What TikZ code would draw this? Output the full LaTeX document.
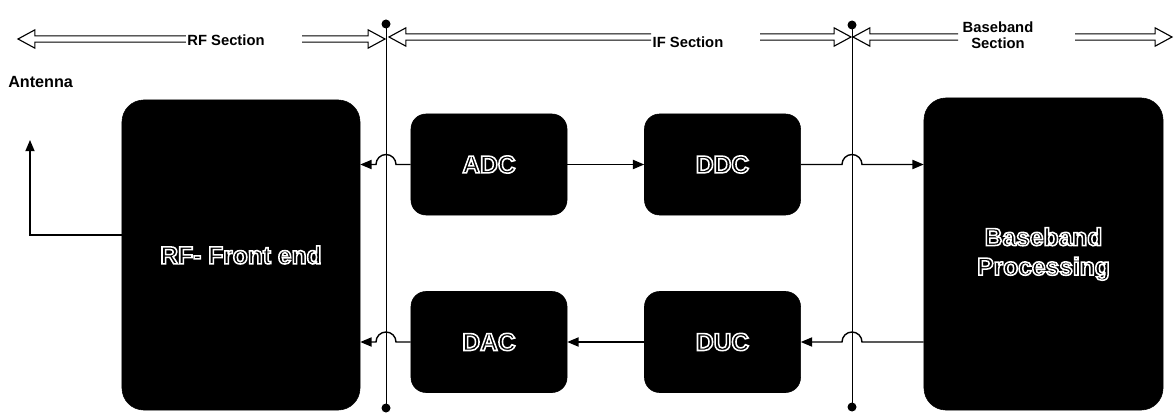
\documentclass[tikz,border=0pt]{standalone}
\usepackage{fontspec}
\setmainfont{Liberation Sans}
\usetikzlibrary{arrows.meta, positioning, calc}

% white outline lettering inside the black blocks
\newcommand\outlined[1]{\special{pdf:literal direct 1 Tr 1.1 w}#1\special{pdf:literal direct 0 Tr}}

% hollow section arrow: tail x from #1, head at #2
\newcommand\hollowarrow[2]{%
  \draw[secline] let \p1=(#1), \p2=(#2), \n1={ifthenelse(\x2>\x1,1,-1)} in
    (\x1,\y2+2.2pt) -- (\x2-\n1*12pt,\y2+2.2pt) -- (\x2-\n1*12pt,\y2+6.5pt) -- (\x2,\y2)
    -- (\x2-\n1*12pt,\y2-6.5pt) -- (\x2-\n1*12pt,\y2-2.2pt) -- (\x1,\y2-2.2pt);}

\begin{document}
\begin{tikzpicture}[x=0.025cm, y=-0.025cm,
  blk/.style={draw, fill=black, text=white, rounded corners=0.375cm, minimum width=3.9cm, minimum height=2.525cm, font=\bfseries\fontsize{17.5}{21}\selectfont, align=center},
  bigblk/.style={blk, rounded corners=0.55cm},
  seclbl/.style={inner sep=1pt, font=\bfseries\fontsize{10.5}{11.5}\selectfont, align=center},
  secline/.style={line width=0.8pt},
  vline/.style={line width=0.7pt},
  link/.style={line width=1pt, -{Triangle[length=8pt,width=6.5pt]}}
]
\useasboundingbox (0,0) rectangle (1176,413);

% blocks
\node[bigblk, minimum width=5.95cm, minimum height=7.75cm] (rf) at (241,255) {\outlined{RF- Front end}};
\node[blk] (adc) at (489,164.5) {\outlined{ADC}};
\node[blk] (ddc) at (722.5,164.5) {\outlined{DDC}};
\node[blk] (dac) at (489,342) {\outlined{DAC}};
\node[blk] (duc) at (722.5,342) {\outlined{DUC}};
\node[bigblk, minimum width=5.975cm, minimum height=7.8cm] (bb) at (1043.5,254) {\outlined{Baseband\\Processing}};

% section borders
\coordinate (v1top) at (386,24);
\coordinate (v1bot) at (386,408);
\coordinate (v2top) at (852,25);
\coordinate (v2bot) at (852,407);
\draw[vline] (v1top) -- (v1bot);
\draw[vline] (v2top) -- (v2bot);
\foreach \p in {v1top,v1bot,v2top,v2bot}
  \fill (\p) circle[radius=4.5];

% section labels and arrows
\node[seclbl] (rfsec) at (226,40) {RF Section};
\node[seclbl] (ifsec) at (688,42) {IF Section};
\node[seclbl] (bbsec) at (998,35) {Baseband\\Section};
\coordinate (rfhl) at (18,39);
\coordinate (rfhr) at (385,39);
\coordinate (rftr) at (302,39);
\coordinate (ifhl) at (389,37);
\coordinate (ifhr) at (851,37);
\coordinate (iftr) at (760,37);
\coordinate (bbhl) at (853,37);
\coordinate (bbtl) at (958,37);
\coordinate (bbhr) at (1172,37);
\coordinate (bbtr) at (1075,37);
\hollowarrow{rfsec.west}{rfhl}
\hollowarrow{rftr}{rfhr}
\hollowarrow{ifsec.west}{ifhl}
\hollowarrow{iftr}{ifhr}
\hollowarrow{bbtl}{bbhl}
\hollowarrow{bbtr}{bbhr}

% antenna
\node[font=\bfseries\fontsize{11.5}{13}\selectfont, anchor=west, inner sep=0pt] (antlbl) at (8,82) {Antenna};
\coordinate (ant) at (30,140);
\coordinate (antfeed) at (122,235);
\draw[link] (antfeed) -| (ant);

% signal paths
\draw[link] (adc.west) -- ($(adc.west -| v1top)+(10,0)$) arc[start angle=0, end angle=-180, radius=10] -- (adc.west -| rf.east);
\draw[link] (adc.east) -- (ddc.west);
\draw[link] (ddc.east) -- ($(ddc.east -| v2top)+(-10,0)$) arc[start angle=180, end angle=360, radius=10] -- (ddc.east -| bb.west);
\draw[link] (duc.east -| bb.west) -- ($(duc.east -| v2top)+(10,0)$) arc[start angle=0, end angle=-180, radius=10] -- (duc.east);
\draw[link] (duc.west) -- (dac.east);
\draw[link] (dac.west) -- ($(dac.west -| v1top)+(10,0)$) arc[start angle=0, end angle=-180, radius=10] -- (dac.west -| rf.east);
\end{tikzpicture}
\end{document}
